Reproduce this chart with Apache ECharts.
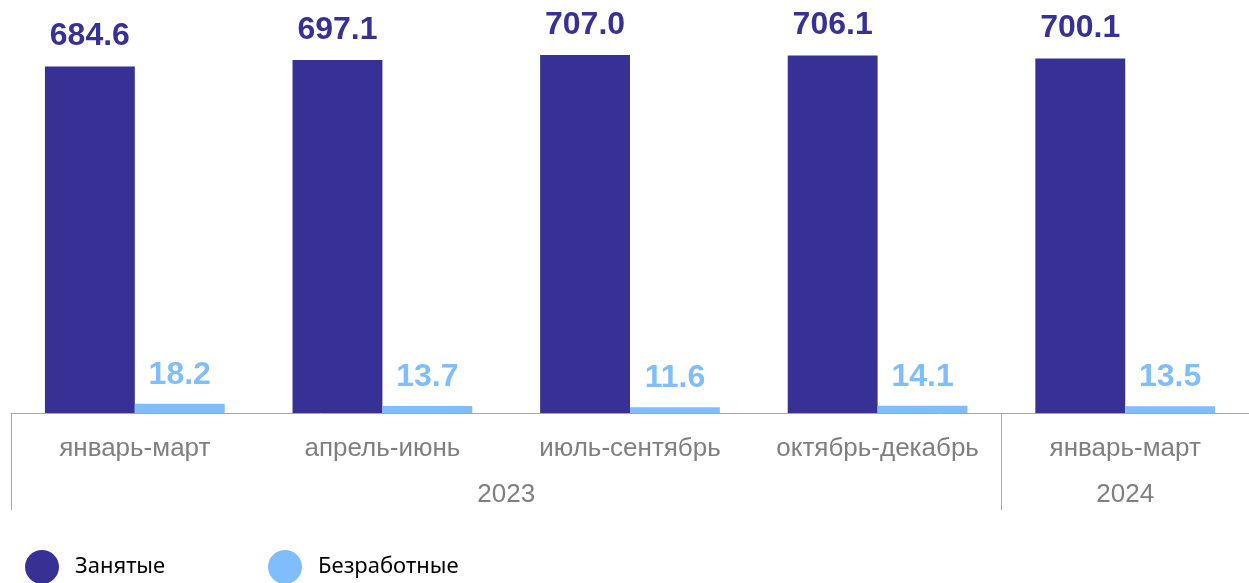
<!DOCTYPE html>
<html><head><meta charset="utf-8">
<script src="https://cdn.jsdelivr.net/npm/echarts@6/dist/echarts.min.js"></script>
<style>html,body{margin:0;padding:0;background:#fff}#c{width:1249px;height:583px}</style>
</head><body><div id="c"></div>
<script>
const categories = ['январь-март','апрель-июнь','июль-сентябрь','октябрь-декабрь','январь-март'];
const years = ['2023','2024'];
const employed = [684.6, 697.1, 707.0, 706.1, 700.1];
const unemployed = [18.2, 13.7, 11.6, 14.1, 13.5];
const seriesNames = ['Занятые','Безработные'];

const DARK = '#373196', LIGHT = '#7fbdfc', GRAY = '#a6a6a6', TXT = '#7f7f7f';
const legendBase = {
  top:545, itemWidth:34, itemHeight:34, icon:'circle',
  textStyle:{fontFamily:'Noto Sans', fontSize:22, color:'#000', padding:[0,0,0,11]}
};
const chart = echarts.init(document.getElementById('c'));
chart.setOption({
  animation:false,
  grid:{left:11,width:1240,top:8,bottom:170},
  legend:[
    Object.assign({left:20, data:[seriesNames[0]]}, legendBase),
    Object.assign({left:263, data:[seriesNames[1]]}, legendBase)
  ],
  xAxis:[{
    type:'category', data:categories,
    axisLine:{lineStyle:{color:GRAY,width:1}},
    axisTick:{show:false},
    axisLabel:{interval:0, color:TXT, fontFamily:'Liberation Sans', fontSize:26, margin:23}
  },{
    type:'value', min:0, max:5, position:'bottom', gridIndex:0,
    axisLine:{show:false}, splitLine:{show:false},
    axisTick:{show:true, customValues:[0,4], length:97, lineStyle:{color:GRAY,width:1}},
    axisLabel:{customValues:[2,4.5], color:TXT, fontFamily:'Liberation Sans', fontSize:26, margin:69,
      formatter:v => v < 4 ? years[0] : years[1]}
  }],
  yAxis:{type:'value', min:0, max:800, show:false, splitLine:{show:false}},
  series:[{
    name:seriesNames[0], type:'bar', data:employed, barGap:0, barCategoryGap:'27.4%',
    itemStyle:{color:DARK},
    label:{show:true, position:'top', distance:14, color:DARK, fontFamily:'Liberation Sans', fontWeight:'bold', fontSize:32,
      formatter:p => p.value.toFixed(1)}
  },{
    name:seriesNames[1], type:'bar', data:unemployed, barGap:0, barCategoryGap:'27.4%',
    itemStyle:{color:LIGHT},
    label:{show:true, position:'top', distance:13, color:LIGHT, fontFamily:'Liberation Sans', fontWeight:'bold', fontSize:32,
      formatter:p => p.value.toFixed(1)}
  }]
});
</script></body></html>
